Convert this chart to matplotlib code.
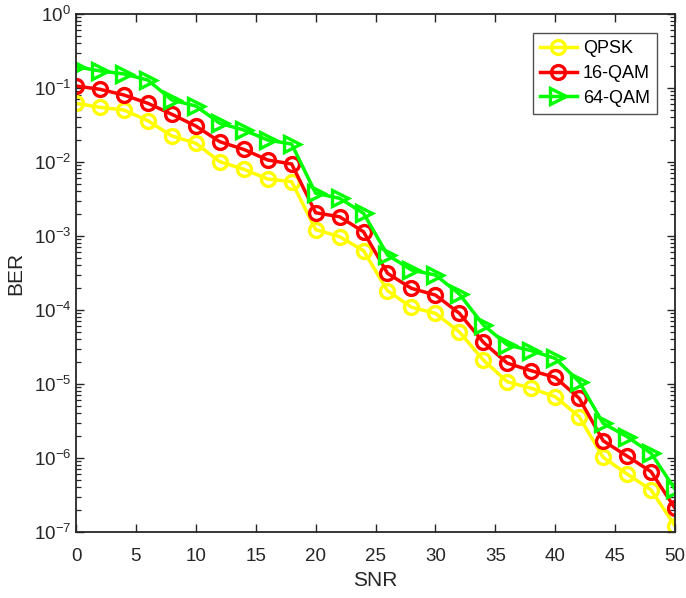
import matplotlib
matplotlib.use("Agg")
import matplotlib.pyplot as plt
import numpy as np
from matplotlib.ticker import LogLocator, NullFormatter

plt.rcParams['font.family'] = ['Liberation Sans', 'DejaVu Sans']
plt.rcParams['mathtext.fontset'] = 'custom'
plt.rcParams['mathtext.rm'] = 'Liberation Sans'
plt.rcParams['mathtext.it'] = 'Liberation Sans'

snr = [0, 2, 4, 6, 8, 10, 12, 14, 16, 18, 20, 22, 24, 26, 28, 30, 32, 34, 36, 38, 40, 42, 44, 46, 48, 50]

ber_qpsk = [0.0621, 0.0548, 0.0504, 0.0361, 0.0225, 0.0179, 0.0101, 0.00797, 0.00589, 0.00542,
            0.00122, 0.00098, 0.000633, 1.82e-4, 1.09e-4, 9.0e-5, 5.05e-5, 2.11e-5, 1.07e-5, 8.75e-6,
            6.74e-6, 3.61e-6, 1.02e-6, 6.08e-7, 3.70e-7, 1.21e-7]
ber_16qam = [0.1064, 0.096, 0.0804, 0.0621, 0.0441, 0.0306, 0.0188, 0.0148, 0.01064, 0.0094,
             0.00206, 0.00182, 0.00114, 3.13e-4, 1.96e-4, 1.59e-4, 9.02e-5, 3.66e-5, 1.91e-5, 1.51e-5,
             1.23e-5, 6.41e-6, 1.71e-6, 1.06e-6, 6.53e-7, 2.09e-7]
ber_64qam = [0.194, 0.170, 0.155, 0.128, 0.0689, 0.0571, 0.0333, 0.0271, 0.0198, 0.0175,
             0.00378, 0.00323, 0.00203, 5.54e-4, 3.47e-4, 2.97e-4, 1.64e-4, 6.27e-5, 3.37e-5, 2.82e-5,
             2.22e-5, 1.07e-5, 2.94e-6, 1.94e-6, 1.16e-6, 3.78e-7]

labels = ['QPSK', '16-QAM', '64-QAM']
xticks = [0, 5, 10, 15, 20, 25, 30, 35, 40, 45, 50]

fig = plt.figure(figsize=(6.86, 5.98), dpi=100)
ax = fig.add_axes([0.1108, 0.1104, 0.8732, 0.8662])

lw = 2.5
ax.semilogy(snr, ber_qpsk, color=(1, 1, 0), marker='o', ms=10, mfc='none', mew=2.4, lw=lw, label=labels[0])
ax.semilogy(snr, ber_16qam, color=(1, 0, 0), marker='o', ms=10, mfc='none', mew=2.4, lw=lw, label=labels[1])
ax.semilogy(snr, ber_64qam, color=(0, 1, 0), marker='>', ms=12, mfc='none', mew=2.4, lw=lw, label=labels[2])

ax.set_xlim(0, 50)
ax.set_ylim(1e-7, 1e0)
ax.set_xticks(xticks)
ax.yaxis.set_major_locator(LogLocator(base=10, numticks=10))
ax.yaxis.set_minor_locator(LogLocator(base=10, subs=np.arange(2, 10), numticks=100))
ax.yaxis.set_minor_formatter(NullFormatter())

ax.tick_params(which='both', direction='in', top=True, right=True, labelsize=13.5, colors='#262626')
ax.tick_params(which='major', length=6, width=1.0)
ax.tick_params(which='minor', length=3.5, width=0.9)
ax.tick_params(axis='x', pad=11.5)
for s in ax.spines.values():
    s.set_linewidth(1.3)
    s.set_color('#262626')

ax.set_xlabel('SNR', fontsize=15, color='#262626', labelpad=4)
ax.set_ylabel('BER', fontsize=15, color='#262626', labelpad=6)

leg = ax.legend(loc='upper right', fontsize=13, handlelength=2.0, frameon=True, fancybox=False,
                edgecolor='#262626', borderpad=0.4, labelspacing=0.42, handletextpad=0.35,
                borderaxespad=0.0, bbox_to_anchor=(0.970, 0.963))
leg.get_frame().set_linewidth(1.0)

fig.savefig('out.png', dpi=100)
